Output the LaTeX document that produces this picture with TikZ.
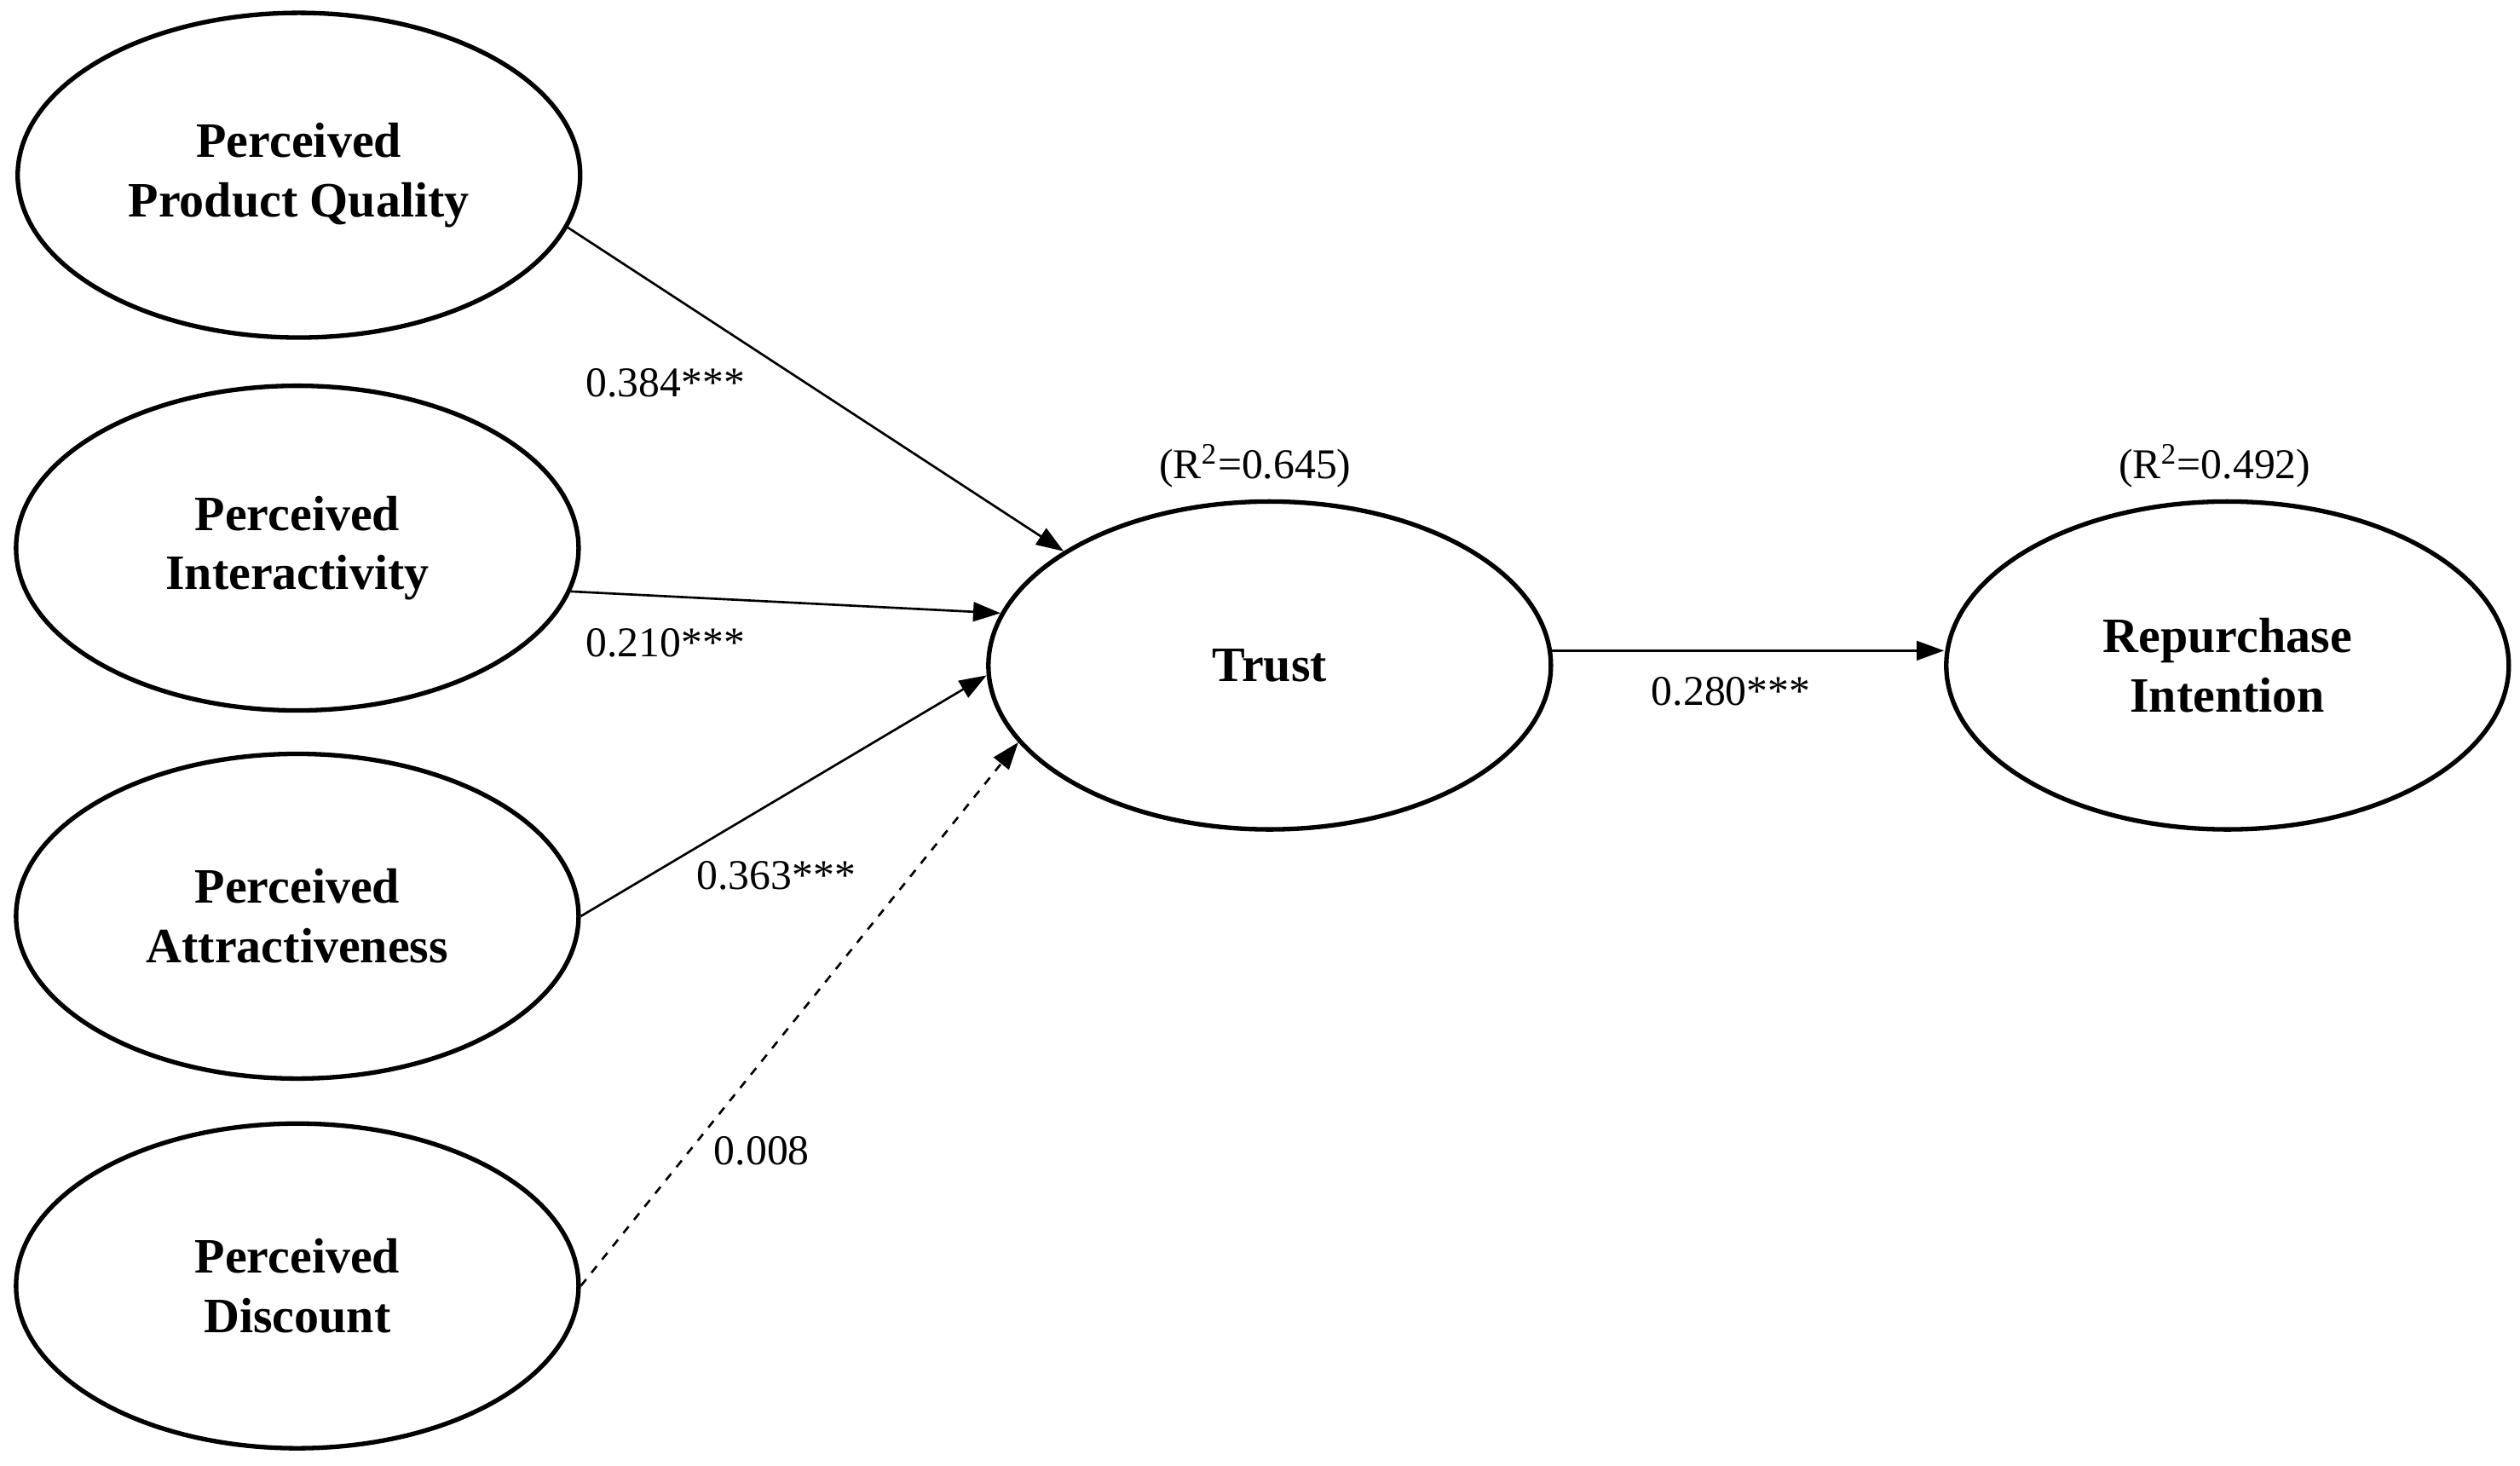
\documentclass[tikz,border=0pt]{standalone}
\usepackage{fontspec}
\setmainfont{Liberation Serif}
\usetikzlibrary{shapes.geometric,arrows.meta}
\tikzset{
  construct/.style={ellipse,draw,line width=1.6pt,inner sep=0pt,
    minimum width=7.0cm,minimum height=4.04cm,align=center,
    font=\fontsize{17.5}{21}\selectfont\bfseries},
  path/.style={line width=0.8pt,-{Triangle[length=0.34cm,width=0.24cm]}},
  coef/.style={font=\fontsize{15}{18}\selectfont}
}
\begin{document}
\begin{tikzpicture}[x=1cm,y=1cm]
  \useasboundingbox (0,0) rectangle (31.36,-18.24);
  % constructs
  \node[construct] (ppq) at (3.72,-2.18) {Perceived\\Product Quality};
  \node[construct] (pi) at (3.70,-6.82) {Perceived\\Interactivity};
  \node[construct] (pa) at (3.70,-11.40) {Perceived\\Attractiveness};
  \node[construct] (pd) at (3.70,-16.00) {Perceived\\Discount};
  \node[construct,minimum height=4.08cm] (trust) at (15.80,-8.28) {Trust};
  \node[construct,minimum height=4.08cm] (ri) at (27.72,-8.28) {Repurchase\\Intention};
  % paths
  \draw[path] (ppq.-11.6) -- (trust.151);
  \draw[path] (pi.-9.2) -- (trust.169);
  \draw[path] (pa.0) -- (trust.182);
  \draw[path,dashed] (pd.0) -- (trust.197.4);
  \draw[path] (trust.3.9) -- (trust.3.9 -| ri.west);
  % coefficients
  \node[coef] (c1) at (8.28,-4.76) {0.384***};
  \node[coef] (c2) at (8.28,-8.00) {0.210***};
  \node[coef] (c3) at (9.66,-10.90) {0.363***};
  \node[coef] (c4) at (9.48,-14.32) {0.008};
  \node[coef] (c5) at (21.54,-8.60) {0.280***};
  \node[coef] (r1) at (15.62,-5.80) {(R\textsuperscript{2}=0.645)};
  \node[coef] (r2) at (27.56,-5.80) {(R\textsuperscript{2}=0.492)};
\end{tikzpicture}
\end{document}
